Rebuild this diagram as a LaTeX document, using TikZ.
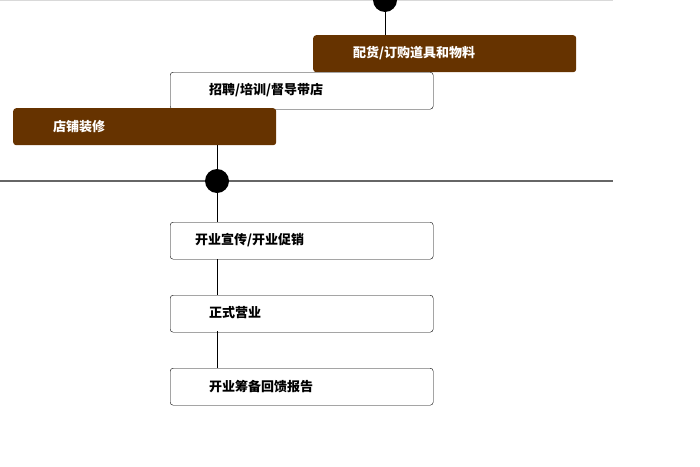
\documentclass[tikz,border=0pt]{standalone}
\usepackage{fontspec}
\newfontfamily\cjk{Noto Sans CJK SC}
\begin{document}
\begin{tikzpicture}[x=1pt,y=-1pt,
  box/.style={draw=black,rounded corners=3pt,minimum width=263pt,minimum height=37pt,anchor=north west,inner sep=0pt},
  brownbox/.style={box,draw=none,fill=brown6},
  lbl/.style={anchor=west,inner sep=0pt,font=\cjk\bfseries\fontsize{13}{15}\selectfont},
  dot/.style={circle,fill=black,minimum size=24pt,inner sep=0pt}]
\definecolor{brown6}{HTML}{663300}
\useasboundingbox (0,0) rectangle (700,466);
\draw[gray!30] (0,0.5) -- (613,0.5);
\draw[gray!80!black,line width=1.2pt] (0,181) -- (613,181);
\node[brownbox] (b1) at (313,35) {};
\node[box,fill=white] (w1) at (170,72) {};
\node[brownbox] (b2) at (13,108) {};
\node[box] (w2) at (170,222) {};
\node[box] (w3) at (170,295) {};
\node[box] (w4) at (170,368) {};
\node[dot] (d1) at (385,0) {};
\node[dot] (d2) at (217,181) {};
\draw (d1) -- (385,35);
\draw (217,145) -- (d2);
\draw (d2) -- (217,222);
\draw (217,259) -- (217,295);
\draw (217,331) -- (217,368);
\node[lbl,text=white] at (353,53.5) {配货/订购道具和物料};
\node[lbl] at (209,90.5) {招聘/培训/督导带店};
\node[lbl,text=white] at (53,127) {店铺装修};
\node[lbl] at (195,240.5) {开业宣传/开业促销};
\node[lbl] at (209,313) {正式营业};
\node[lbl] at (209,386.5) {开业筹备回馈报告};
\end{tikzpicture}
\end{document}
